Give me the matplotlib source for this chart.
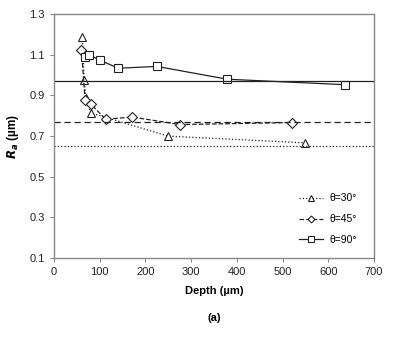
import matplotlib.pyplot as plt

plt.rcParams["font.family"] = ["Liberation Sans", "DejaVu Sans"]

# surface roughness Ra vs. depth for three tool angles
depth_30 = [62, 66, 70, 80, 250, 550]
ra_30 = [1.19, 0.975, 0.89, 0.815, 0.70, 0.667]
depth_45 = [60, 68, 81, 113, 171, 276, 521]
ra_45 = [1.125, 0.88, 0.857, 0.783, 0.794, 0.757, 0.767]
depth_90 = [67, 77, 101, 141, 225, 379, 637]
ra_90 = [1.09, 1.10, 1.073, 1.034, 1.043, 0.98, 0.953]

# reference levels
level_30 = 0.65
level_45 = 0.77
level_90 = 0.97

xticks = list(range(0, 701, 100))
yticks = [0.1, 0.3, 0.5, 0.7, 0.9, 1.1, 1.3]

fig = plt.figure(figsize=(3.97, 3.37), dpi=100)
ax = fig.add_axes([0.136, 0.234, 0.806, 0.724])

mk = dict(mfc="white", mec="#222222", mew=0.8, color="#222222")
ax.plot(depth_30, ra_30, ls=":", lw=0.9, marker="^", ms=5.5, label="θ=30°", **mk)
ax.plot(depth_45, ra_45, ls="--", lw=0.9, marker="D", ms=5, label="θ=45°", **mk)
ax.plot(depth_90, ra_90, ls="-", lw=0.9, marker="s", ms=5.5, label="θ=90°", **mk)

ax.axhline(level_30, color="#222222", ls=":", lw=0.9)
ax.axhline(level_45, color="#222222", ls="--", lw=0.9, dashes=(5, 3))
ax.axhline(level_90, color="#222222", ls="-", lw=0.9)

ax.set_xlim(0, 700)
ax.set_ylim(0.1, 1.3)
ax.set_xticks(xticks)
ax.set_yticks(yticks)
ax.set_yticklabels([f"{v:.1f}" for v in yticks])
ax.tick_params(labelsize=8, length=3, color="#888888", labelcolor="#222222",
               direction="out")
for s in ax.spines.values():
    s.set_color("#888888")
    s.set_linewidth(1.0)

ax.set_xlabel("Depth (µm)", fontsize=8, fontweight="bold", labelpad=6)
ax.set_ylabel("$\\mathbfit{R}_{\\mathbfit{a}}$ (µm)", fontsize=8.5, fontweight="bold", labelpad=6)

ax.legend(loc="lower right", frameon=False, fontsize=7.5, handlelength=2.3,
          handletextpad=0.6, markerscale=0.7, labelspacing=1.05,
          bbox_to_anchor=(0.975, 0.015))

fig.text(0.539, 0.056, "(a)", ha="center", va="center", fontsize=8, fontweight="bold")

fig.savefig("out.png", dpi=100)
